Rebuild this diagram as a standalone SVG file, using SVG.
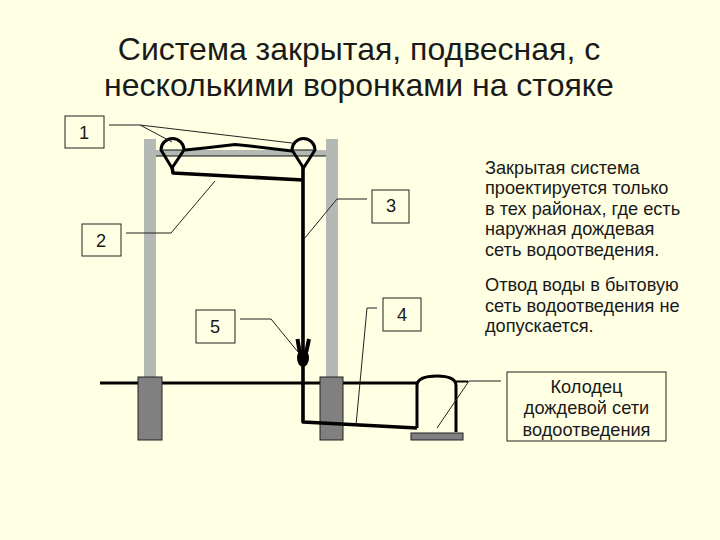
<svg xmlns="http://www.w3.org/2000/svg" width="720" height="540" viewBox="0 0 720 540">
<style>
text{font-family:"Liberation Sans",Arial,sans-serif;fill:#1a1a1a;text-anchor:middle}
.t{font-size:32px}
.b{font-size:18.2px;text-anchor:start}
.n{font-size:18.2px}
.box{fill:#ffffe3;stroke:#222;stroke-width:1}
.post{fill:#b4b9b4}
.foot{fill:#808080;stroke:#222;stroke-width:1}
.pipe{fill:none;stroke:#000;stroke-width:3;stroke-linejoin:round}
.main{stroke-width:3.600px}
.lead{fill:none;stroke:#222;stroke-width:1}
</style>
<rect width="720" height="540" fill="#ffffe3"/>
<g id="title"><text class="t" x="359" y="60">Система закрытая, подвесная, с</text><text class="t" x="359" y="96">несколькими воронками на стояке</text></g>
<g id="structure">
<rect class="post" x="144" y="139" width="12" height="238"/>
<rect class="post" x="326" y="139" width="12" height="238"/>
<rect class="post" x="156" y="150" width="170" height="6"/>
<path d="M156 156H326" stroke="#111" stroke-width="1"/>
<path d="M100 383H417" stroke="#000" stroke-width="3"/>
<rect class="foot" x="138" y="377" width="24" height="63"/>
<rect class="foot" x="320" y="377" width="23" height="63"/>
</g>
<g id="pipes">
<path class="pipe main" d="M172 167L173 173L303 180"/>
<path class="pipe main" d="M303 167V422L417 428"/>
<path class="pipe" d="M185 150L205 148L235 144.500L250 146L292 151"/>
</g>
<g id="funnel-1"><path class="pipe" d="M161 150A11.500 11.500 0 0 1 184 150L172 168Z"/><path d="M161 150H185" stroke="#111"/></g>
<g id="funnel-2"><path class="pipe" d="M292 150A11.500 11.500 0 0 1 315 150L303.500 168Z"/><path d="M292 150H316" stroke="#111"/></g>
<g id="gully"><ellipse cx="303" cy="358" rx="6" ry="9" fill="#000"/><path d="M297.500 339L299.500 351L303 354L306.500 351L309 339" fill="none" stroke="#000" stroke-width="4"/></g>
<g id="well">
<path class="pipe" d="M417 428V385Q418 376 437 376Q455 376 456 385V432"/>
<path d="M456 381.500H468" stroke="#000" stroke-width="2"/>
<rect x="411" y="433" width="52" height="7" fill="#808080" stroke="#222"/>
</g>
<g id="connectors">
<path class="lead" d="M109 125H140L172 142M140 125L292 143"/>
<path class="lead" d="M126 233H171L215 181"/>
<path class="lead" d="M367 199H337L304 239"/>
<path class="lead" d="M377 308H367L356 425"/>
<path class="lead" d="M240 319H271L298 352"/>
<path class="lead" d="M437 428L469 381H501"/>
</g>
<g id="n1"><rect class="box" x="65" y="116" width="39" height="32"/><text class="n" x="84" y="138.500">1</text></g>
<g id="n2"><rect class="box" x="82" y="224" width="39" height="32"/><text class="n" x="101" y="246.500">2</text></g>
<g id="n3"><rect class="box" x="372" y="190" width="37" height="33"/><text class="n" x="391" y="212">3</text></g>
<g id="n4"><rect class="box" x="383" y="298" width="38" height="33"/><text class="n" x="402" y="320.500">4</text></g>
<g id="n5"><rect class="box" x="196" y="310" width="39" height="33"/><text class="n" x="215" y="332.500">5</text></g>
<g id="well-label"><rect class="box" x="507" y="372" width="159" height="69"/><text class="n" x="586.500" y="393">Колодец</text><text class="n" x="586.500" y="414">дождевой сети</text><text class="n" x="586.500" y="436">водоотведения</text></g>
<g id="notes"><text class="b" x="485" y="174">Закрытая система</text><text class="b" x="485" y="194">проектируется только</text><text class="b" x="485" y="215">в тех районах, где есть</text><text class="b" x="485" y="235">наружная дождевая</text><text class="b" x="485" y="256">сеть водоотведения.</text><text class="b" x="485" y="291">Отвод воды в бытовую</text><text class="b" x="485" y="312">сеть водоотведения не</text><text class="b" x="485" y="332">допускается.</text></g>
</svg>
